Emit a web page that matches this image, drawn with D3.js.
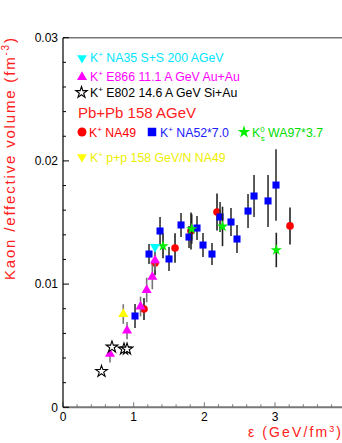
<!DOCTYPE html>
<meta charset="utf-8">
<script src="https://d3js.org/d3.v7.min.js"></script>
<style>
  body { margin: 0; background: #fff; }
  text { font-family: "Liberation Sans", Arial, sans-serif; }
</style>
<div id="chart"></div>
<script>
// values
var na49X = [1.146, 1.302, 1.585, 1.811, 2.179, 3.212];
var na49Y = [0.00798, 0.01171, 0.01293, 0.01431, 0.01585, 0.01472];
var na49Err = [0.0009, 0.001, 0.0012, 0.0015, 0.0015, 0.0015];

var na52X = [1.019, 1.217, 1.373, 1.500, 1.670, 1.783, 1.896, 1.981, 2.108, 2.222, 2.377, 2.462, 2.618, 2.703, 2.901, 3.014];
var na52Y = [0.00741, 0.01244, 0.01431, 0.01204, 0.01480, 0.01382, 0.01455, 0.01317, 0.01244, 0.01545, 0.01504, 0.01366, 0.01593, 0.01715, 0.01675, 0.01804];
var na52Err = [0.00097, 0.00081, 0.00114, 0.00097, 0.00097, 0.00089, 0.00097, 0.00097, 0.00089, 0.00122, 0.00114, 0.00114, 0.00138, 0.0017, 0.00211, 0.0029];

var wa97X = [1.415, 1.821, 2.257, 3.018];
var wa97Y = [0.01309, 0.01447, 0.01468, 0.01277];
var wa97Err = [0.001, 0.0012, 0.0016, 0.0014];

var e866X = [0.665, 0.906, 1.097, 1.184, 1.264, 1.302];
var e866Y = [0.00433, 0.00623, 0.00818, 0.00952, 0.01058, 0.01192];
var e866Err = [0.0007, 0.0007, 0.0008, 0.001, 0.001, 0.0008];

var na35X = [1.302];
var na35Y = [0.01301];

var ppX = [0.853];
var ppY = [0.00757];
var ppErr = [0.0008];

var e802X = [0.545, 0.693, 0.863, 0.906];
var e802Y = [0.00291, 0.00489, 0.00473, 0.00473];

var yTicks = [0, 0.01, 0.02, 0.03];
var yTickLabels = ["0", "0.01", "0.02", "0.03"];
var xTicks = [0, 1, 2, 3];

var W = 342, H = 443;
var x = d3.scaleLinear().domain([0, 4]).range([63, 345.7]);
var y = d3.scaleLinear().domain([0, 0.03]).range([407.3, 37.7]);

var svg = d3.select("#chart").append("svg")
  .attr("width", W).attr("height", H);

// frame
svg.append("line").attr("x1", x(0)).attr("x2", W).attr("y1", y(0.03)).attr("y2", y(0.03))
  .attr("stroke", "#777").attr("stroke-width", 1.5);

// x axis (ticks point up, inside)
var xAxis = svg.append("g").attr("transform", "translate(0," + y(0) + ")");
xAxis.append("line").attr("x1", x(0)).attr("x2", W).attr("stroke", "#777").attr("stroke-width", 2);
xAxis.selectAll(".minor").data(d3.range(0, 4.01, 0.2)).enter().append("line")
  .attr("x1", function(d) { return x(d); }).attr("x2", function(d) { return x(d); })
  .attr("y1", 0).attr("y2", function(d) { return Math.abs(d - Math.round(d)) < 1e-6 ? -5 : -3; })
  .attr("stroke", "#777").attr("stroke-width", 1);
xAxis.selectAll(".lab").data(xTicks).enter().append("text")
  .attr("x", function(d) { return x(d); }).attr("y", 14)
  .attr("text-anchor", "middle").attr("font-size", 12).text(function(d) { return d; });

// y axis (ticks point right, inside)
var yAxis = svg.append("g").attr("transform", "translate(" + x(0) + ",0)");
yAxis.append("line").attr("y1", y(0)).attr("y2", y(0.03)).attr("stroke", "#000").attr("stroke-width", 1.2);
yAxis.selectAll(".minor").data(d3.range(0, 0.03001, 0.002)).enter().append("line")
  .attr("y1", function(d) { return y(d); }).attr("y2", function(d) { return y(d); })
  .attr("x1", 0).attr("x2", function(d, i) { return i % 5 === 0 ? 6 : 3; })
  .attr("stroke", "#000").attr("stroke-width", 1);
yAxis.selectAll(".lab").data(yTicks).enter().append("text")
  .attr("x", -5).attr("y", function(d) { return y(d); }).attr("dy", "0.35em")
  .attr("text-anchor", "end").attr("font-size", 12)
  .text(function(d, i) { return yTickLabels[i]; });

// axis titles
var yt = svg.append("text").attr("transform", "translate(15,280) rotate(-90)")
  .attr("fill", "#ff2020").attr("font-size", 15)
  .attr("textLength", 242).attr("lengthAdjust", "spacing");
yt.append("tspan").text("Kaon /effective volume (fm");
yt.append("tspan").attr("dy", -6).attr("font-size", 10).text("-3");
yt.append("tspan").attr("dy", 6).text(")");

var xt = svg.append("text").attr("x", 248).attr("y", 437)
  .attr("fill", "#ff2020").attr("font-size", 14)
  .attr("textLength", 93).attr("lengthAdjust", "spacing");
xt.append("tspan").text("\u03b5 (GeV/fm");
xt.append("tspan").attr("dy", -5).attr("font-size", 9).text("3");
xt.append("tspan").attr("dy", 5).text(")");

// helpers
function series(xs, ys, errs, barColor, symbol, size, fill, stroke, rot) {
  var g = svg.append("g");
  var pts = xs.map(function(v, i) { return { x: v, y: ys[i], e: errs ? errs[i] : 0 }; });
  if (errs) {
    g.selectAll(".bar").data(pts).enter().append("line")
      .attr("x1", function(d) { return x(d.x); }).attr("x2", function(d) { return x(d.x); })
      .attr("y1", function(d) { return y(d.y - d.e); }).attr("y2", function(d) { return y(d.y + d.e); })
      .attr("stroke", barColor).attr("stroke-width", 1.6);
  }
  g.selectAll(".pt").data(pts).enter().append("path")
    .attr("d", d3.symbol().type(symbol).size(size))
    .attr("transform", function(d) { return "translate(" + x(d.x) + "," + y(d.y) + ")" + (rot ? " rotate(180)" : ""); })
    .attr("fill", fill).attr("stroke", stroke || "none").attr("stroke-width", 1.1);
}

series(na49X, na49Y, na49Err, "#222", d3.symbolCircle, 46, "#ff0000");
series(na52X, na52Y, na52Err, "#333", d3.symbolSquare, 50, "#0000ff");
series(wa97X, wa97Y, wa97Err, "#222", d3.symbolStar, 40, "#00ee00");
series(e866X, e866Y, e866Err, "#777", d3.symbolTriangle, 44, "#ff00ff");
series(na35X, na35Y, null, "#777", d3.symbolTriangle, 44, "#00ffff", null, true);
series(ppX, ppY, ppErr, "#777", d3.symbolTriangle, 44, "#ffff00");
series(e802X, e802Y, null, null, d3.symbolStar, 42, "#fff", "#000");

// legend
function sup(t, s, sub) {
  t.append("tspan").text("K");
  t.append("tspan").attr("dy", -5).attr("font-size", 8).text(s);
  if (sub) t.append("tspan").attr("dx", -4).attr("dy", 9).attr("font-size", 8).text(sub);
  t.append("tspan").attr("dy", sub ? -4 : 5).text(" ");
  return t;
}
function mark(cx, cy, symbol, size, fill, stroke, rot) {
  svg.append("path").attr("d", d3.symbol().type(symbol).size(size))
    .attr("transform", "translate(" + cx + "," + cy + ")" + (rot ? " rotate(180)" : ""))
    .attr("fill", fill).attr("stroke", stroke || "none").attr("stroke-width", 1.1);
}
function legText(tx, ty, color, size) {
  return svg.append("text").attr("x", tx).attr("y", ty).attr("fill", color).attr("font-size", size || 12.3);
}

mark(82, 58, d3.symbolTriangle, 40, "#00ffff", null, true);
sup(legText(90, 62, "#00e5ff"), "+").append("tspan").text("NA35 S+S 200 AGeV");

mark(82, 77, d3.symbolTriangle, 44, "#ff00ff");
sup(legText(90, 81, "#ff00ff"), "+").append("tspan").text("E866 11.1 A GeV Au+Au");

mark(81.5, 92.5, d3.symbolStar, 40, "#fff", "#000");
sup(legText(90, 97, "#000"), "+").append("tspan").text("E802 14.6 A GeV Si+Au");

legText(78, 118, "#ff2020", 15).text("Pb+Pb 158 AGeV");

mark(82, 132, d3.symbolCircle, 64, "#ff0000");
sup(legText(89, 137, "#ff0000"), "+").append("tspan").text("NA49");

mark(152, 132, d3.symbolSquare, 72, "#0000ff");
sup(legText(160, 137, "#2020ff"), "+").append("tspan").text("NA52*7.0");

mark(244, 132, d3.symbolStar, 50, "#00ee00");
sup(legText(252, 137, "#00dd00"), "0", "s").append("tspan").text("WA97*3.7");

mark(82, 157, d3.symbolTriangle, 40, "#ffff00", null, true);
sup(legText(90, 162, "#eeee00"), "+").append("tspan").text("p+p 158 GeV/N NA49");
</script>
